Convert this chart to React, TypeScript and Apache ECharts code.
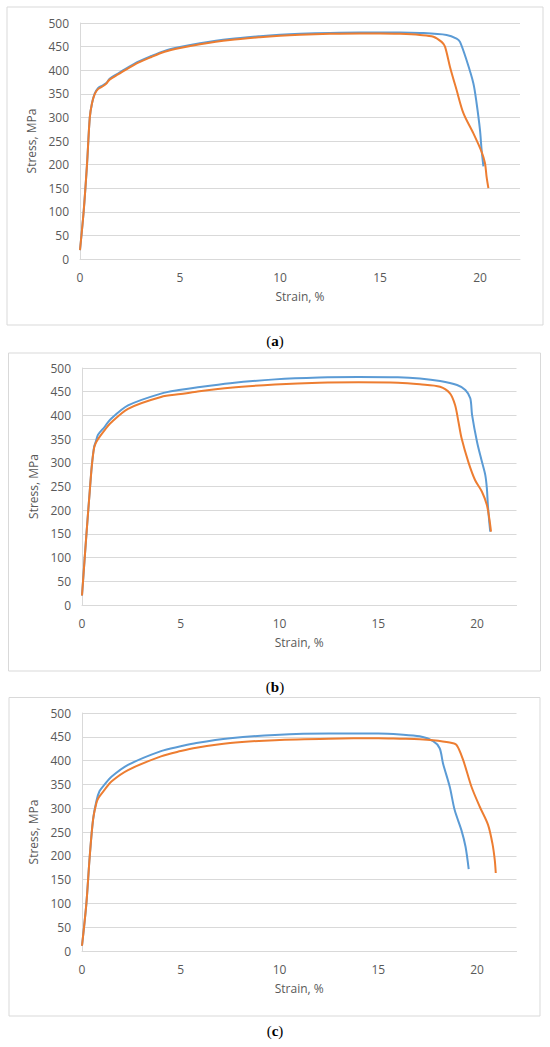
import React, { useEffect, useRef } from "react";
import * as echarts from "echarts";

// ---- Data (strain %, stress MPa) ----
// Panel (a)
const strainA1 = [0, 0.18, 0.35, 0.49, 0.6, 0.73, 0.9, 1.1, 1.32, 1.48, 1.9, 2.73, 3.57, 4.23, 5, 6, 7.5, 9, 10, 11, 12.5, 14, 15, 16, 17, 18.33, 18.83, 19.0, 19.33, 19.67, 19.83, 20.0, 20.08, 20.17];
const stressA1 = [19, 99, 200, 300, 330, 350, 362, 367, 373, 382, 393, 414, 430, 441, 449, 457, 466, 472, 475, 477, 479, 480, 480, 480, 479, 474.6, 467, 460, 421, 372, 330, 273, 231, 196];
const strainA2 = [0, 0.18, 0.35, 0.49, 0.6, 0.73, 0.9, 1.1, 1.32, 1.48, 1.9, 2.73, 3.57, 4.23, 5, 6, 7.5, 9, 10, 11, 12.5, 14, 15, 16, 17, 17.67, 18.08, 18.25, 18.5, 18.83, 19.17, 19.67, 20.08, 20.25, 20.33, 20.42];
const stressA2 = [19, 99, 200, 300, 330, 349, 360, 365, 372, 380, 391, 412, 428, 439, 447, 455, 464, 470, 473, 475, 477, 478, 478, 477, 474.6, 471, 460, 450, 407, 358, 309, 266, 227, 203, 174, 150];

// Panel (b)
const strainB1 = [0, 0.22, 0.39, 0.5, 0.61, 0.7, 0.81, 1.15, 1.4, 2.33, 4.0, 5, 5.79, 7.5, 9.77, 12, 14, 16, 17.11, 18.13, 18.99, 19.41, 19.66, 19.75, 20.0, 20.25, 20.42, 20.5, 20.55, 20.62, 20.67];
const stressB1 = [20, 147, 239, 295, 333, 345, 359, 376, 390, 421, 446, 454, 459, 468, 476, 480, 481, 480.5, 478, 472.6, 464, 453.6, 436, 401, 344.5, 302, 274, 246, 211, 176, 155];
const strainB2 = [0, 0.22, 0.39, 0.5, 0.61, 0.69, 0.81, 1.15, 1.4, 2.33, 4.0, 5, 5.79, 7.5, 9.77, 12, 14, 16, 17.11, 18.13, 18.63, 18.89, 19.06, 19.22, 19.56, 19.9, 20.25, 20.5, 20.62, 20.71];
const stressB2 = [20, 147, 239, 295, 331, 341, 350, 369, 382, 414, 439, 445, 450, 458.5, 465, 469, 470, 469, 465.6, 460.5, 446.6, 422, 386.7, 351.6, 302, 263.7, 239, 211, 183, 155];

// Panel (c)
const strainC1 = [0, 0.22, 0.39, 0.56, 0.73, 0.89, 1.15, 1.49, 2.33, 4.0, 5, 5.79, 7.5, 9.77, 12.5, 15, 16.1, 17.1, 17.78, 18.11, 18.28, 18.62, 18.87, 19.21, 19.42, 19.58];
const stressC1 = [11, 99, 198, 276, 315, 336, 350, 366, 391, 420, 430, 437, 447, 454, 457, 457, 455, 451, 441, 426, 394, 345, 296, 254, 219, 172];
const strainC2 = [0, 0.22, 0.39, 0.56, 0.73, 0.84, 1.15, 1.49, 2.33, 4.0, 5, 5.79, 7.5, 9.77, 12.5, 15, 16.1, 17.1, 17.78, 18.62, 18.96, 19.3, 19.72, 20.14, 20.56, 20.78, 20.9, 20.95];
const stressC2 = [11, 99, 198, 276, 311, 322, 339, 356, 380, 409, 420, 427, 437, 443, 446, 447, 446, 445, 443, 438, 433, 401, 345, 303, 265, 226, 191, 164];

const xTicks = { min: 0, max: 22, interval: 5 };
const yTicks = { min: 0, max: 500, interval: 50 };
const panelLabels = ["a", "b", "c"];

const BLUE = "#5B9BD5";
const ORANGE = "#ED7D31";
const GRID_COLOR = "#d9d9d9";
const TEXT_COLOR = "#595959";
const FONT = "'Open Sans', 'Noto Sans', sans-serif";

const zip = (xs: number[], ys: number[]) => xs.map((x, i) => [x, ys[i]]);

const panelData = [
  [zip(strainA1, stressA1), zip(strainA2, stressA2)],
  [zip(strainB1, stressB1), zip(strainB2, stressB2)],
  [zip(strainC1, stressC1), zip(strainC2, stressC2)],
];

// layout (pixels)
const layouts = [
  { grid: { left: 80, top: 23, width: 440, height: 236 }, box: { x: 7, y: 7, w: 536, h: 318 }, labelY: 341 },
  { grid: { left: 82, top: 368, width: 434.5, height: 237 }, box: { x: 8.5, y: 353, w: 532, h: 318 }, labelY: 687 },
  { grid: { left: 82, top: 713, width: 434.5, height: 238 }, box: { x: 9, y: 697.5, w: 531, h: 318.5 }, labelY: 1031 },
];

export default function App() {
  const ref = useRef<HTMLDivElement>(null);
  useEffect(() => {
    document.body.style.margin = "0";
    const chart = echarts.init(ref.current!, null, { renderer: "svg" });
    const grids: any[] = [];
    const xAxes: any[] = [];
    const yAxes: any[] = [];
    const series: any[] = [];
    const graphics: any[] = [];
    layouts.forEach((L, i) => {
      grids.push({ ...L.grid, containLabel: false });
      xAxes.push({
        type: "value",
        gridIndex: i,
        ...xTicks,
        name: "Strain, %",
        nameLocation: "middle",
        nameGap: 31,
        nameTextStyle: { color: TEXT_COLOR, fontSize: 12, fontFamily: FONT },
        axisLine: { show: true, lineStyle: { color: GRID_COLOR, width: 1 } },
        axisTick: { show: false },
        splitLine: { show: false },
        axisLabel: { color: TEXT_COLOR, fontSize: 12, fontFamily: FONT, margin: 12, showMaxLabel: false },
      });
      yAxes.push({
        type: "value",
        gridIndex: i,
        ...yTicks,
        name: "Stress, MPa",
        nameLocation: "middle",
        nameRotate: 90,
        nameGap: 38,
        nameTextStyle: { color: TEXT_COLOR, fontSize: 12, fontFamily: FONT },
        axisLine: { show: true, lineStyle: { color: GRID_COLOR, width: 1 } },
        axisTick: { show: false },
        splitLine: { show: true, lineStyle: { color: GRID_COLOR, width: 1 } },
        axisLabel: { color: TEXT_COLOR, fontSize: 12, fontFamily: FONT, margin: 11 },
      });
      const [blue, orange] = panelData[i];
      series.push({
        type: "line",
        xAxisIndex: i,
        yAxisIndex: i,
        data: blue,
        showSymbol: false,
        symbol: "none",
        smooth: 0.3,
        lineStyle: { color: BLUE, width: 2 },
        itemStyle: { color: BLUE },
      });
      series.push({
        type: "line",
        xAxisIndex: i,
        yAxisIndex: i,
        data: orange,
        showSymbol: false,
        symbol: "none",
        smooth: 0.3,
        lineStyle: { color: ORANGE, width: 2 },
        itemStyle: { color: ORANGE },
      });
      graphics.push({
        type: "rect",
        shape: { x: L.box.x, y: L.box.y, width: L.box.w, height: L.box.h },
        style: { fill: "none", stroke: GRID_COLOR, lineWidth: 1 },
        silent: true,
        z: -1,
      });
      graphics.push({
        type: "text",
        x: 275,
        y: L.labelY,
        style: {
          text: `{n|(}{b|${panelLabels[i]}}{n|)}`,
          align: "center",
          verticalAlign: "middle",
          rich: {
            n: { fontFamily: "'Liberation Serif', 'DejaVu Serif', serif", fontSize: 15, fill: "#000", fontWeight: "normal" },
            b: { fontFamily: "'Liberation Serif', 'DejaVu Serif', serif", fontSize: 15, fill: "#000", fontWeight: "bold" },
          },
        },
      });
    });
    chart.setOption({
      animation: false,
      backgroundColor: "#fff",
      grid: grids,
      xAxis: xAxes,
      yAxis: yAxes,
      series,
      graphic: graphics,
    });
    return () => chart.dispose();
  }, []);
  return (
    <div
      ref={ref}
      style={{ width: 550, height: 1047, position: "absolute", left: 0, top: 0, background: "#fff" }}
    />
  );
}
